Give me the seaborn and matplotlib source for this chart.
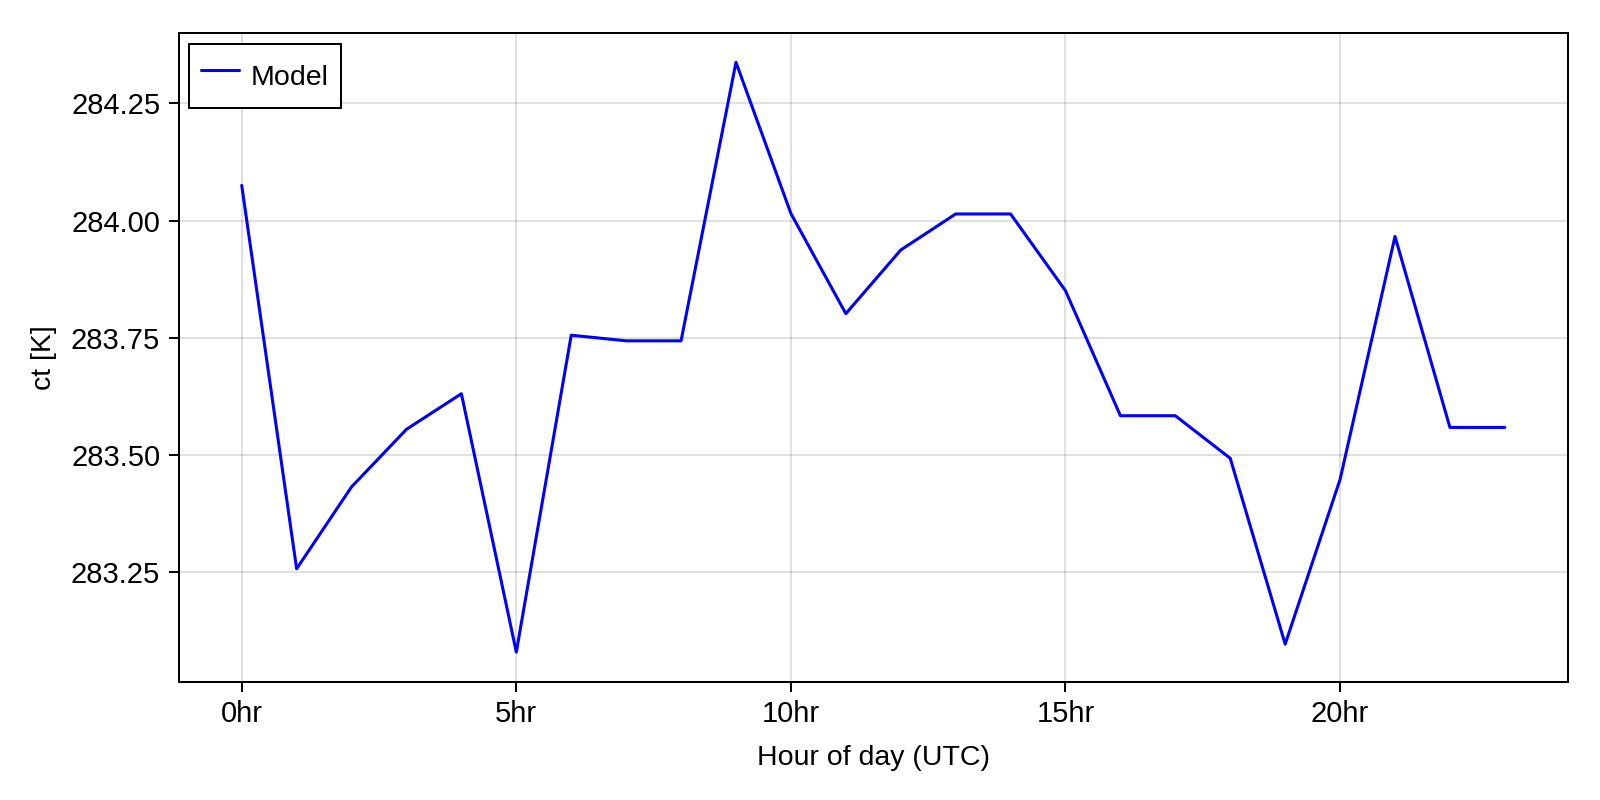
import numpy as np
import pandas as pd
import seaborn as sns
import matplotlib
matplotlib.use("Agg")
import matplotlib.pyplot as plt

hours = list(range(24))
ct_model = [284.075, 283.256, 283.431, 283.554, 283.630, 283.078, 283.755, 283.743,
            283.743, 284.338, 284.015, 283.801, 283.937, 284.014, 284.014, 283.850,
            283.583, 283.583, 283.492, 283.095, 283.447, 283.966, 283.558, 283.558]
xtick_vals = [0, 5, 10, 15, 20]
xtick_labels = ["0hr", "5hr", "10hr", "15hr", "20hr"]
ytick_vals = [283.25, 283.50, 283.75, 284.00, 284.25]
ytick_labels = ["283.25", "283.50", "283.75", "284.00", "284.25"]

df = pd.DataFrame({"hour": hours, "ct": ct_model, "series": "Model"})

sns.set_style("white")
plt.rcParams['font.family'] = ['Liberation Sans', 'DejaVu Sans']
plt.rcParams['text.color'] = 'black'
plt.rcParams['axes.labelcolor'] = 'black'
plt.rcParams['xtick.color'] = 'black'
plt.rcParams['ytick.color'] = 'black'

fig = plt.figure(figsize=(16, 8), dpi=100)
ax = fig.add_axes([0.1116, 0.148, 0.98 - 0.1116, 0.959 - 0.148])

sns.lineplot(data=df, x="hour", y="ct", hue="series", palette={"Model": "#0000ff"},
             linewidth=2.2, ax=ax)

ax.set_xlim(-1.15, 24.15)
ax.set_ylim(283.015, 284.401)
ax.set_xticks(xtick_vals)
ax.set_xticklabels(xtick_labels)
ax.set_yticks(ytick_vals)
ax.set_yticklabels(ytick_labels)
ax.grid(True, color="black", alpha=0.12, linewidth=1.44)
ax.set_axisbelow(True)
for s in ax.spines.values():
    s.set_color("black")
    s.set_linewidth(1.44)
ax.tick_params(axis="both", direction="out", length=7.2, width=1.44, color="black",
               labelsize=21, pad=6, bottom=True, left=True, labelcolor="black")
ax.set_xlabel("Hour of day (UTC)", fontsize=20.5, labelpad=12, color="black")
ax.set_ylabel("ct [K]", fontsize=20.5, labelpad=10, color="black")

leg = ax.legend(loc="upper left", fontsize=20.5, frameon=True, fancybox=False,
                handlelength=1.32, handletextpad=0.42, borderpad=0.42,
                handleheight=1.8, borderaxespad=0.38)
leg.get_frame().set_edgecolor("black")
leg.get_frame().set_linewidth(1.44)
leg.get_frame().set_alpha(1)
for t in leg.get_texts():
    t.set_color("black")

fig.savefig("out.png", dpi=100)
